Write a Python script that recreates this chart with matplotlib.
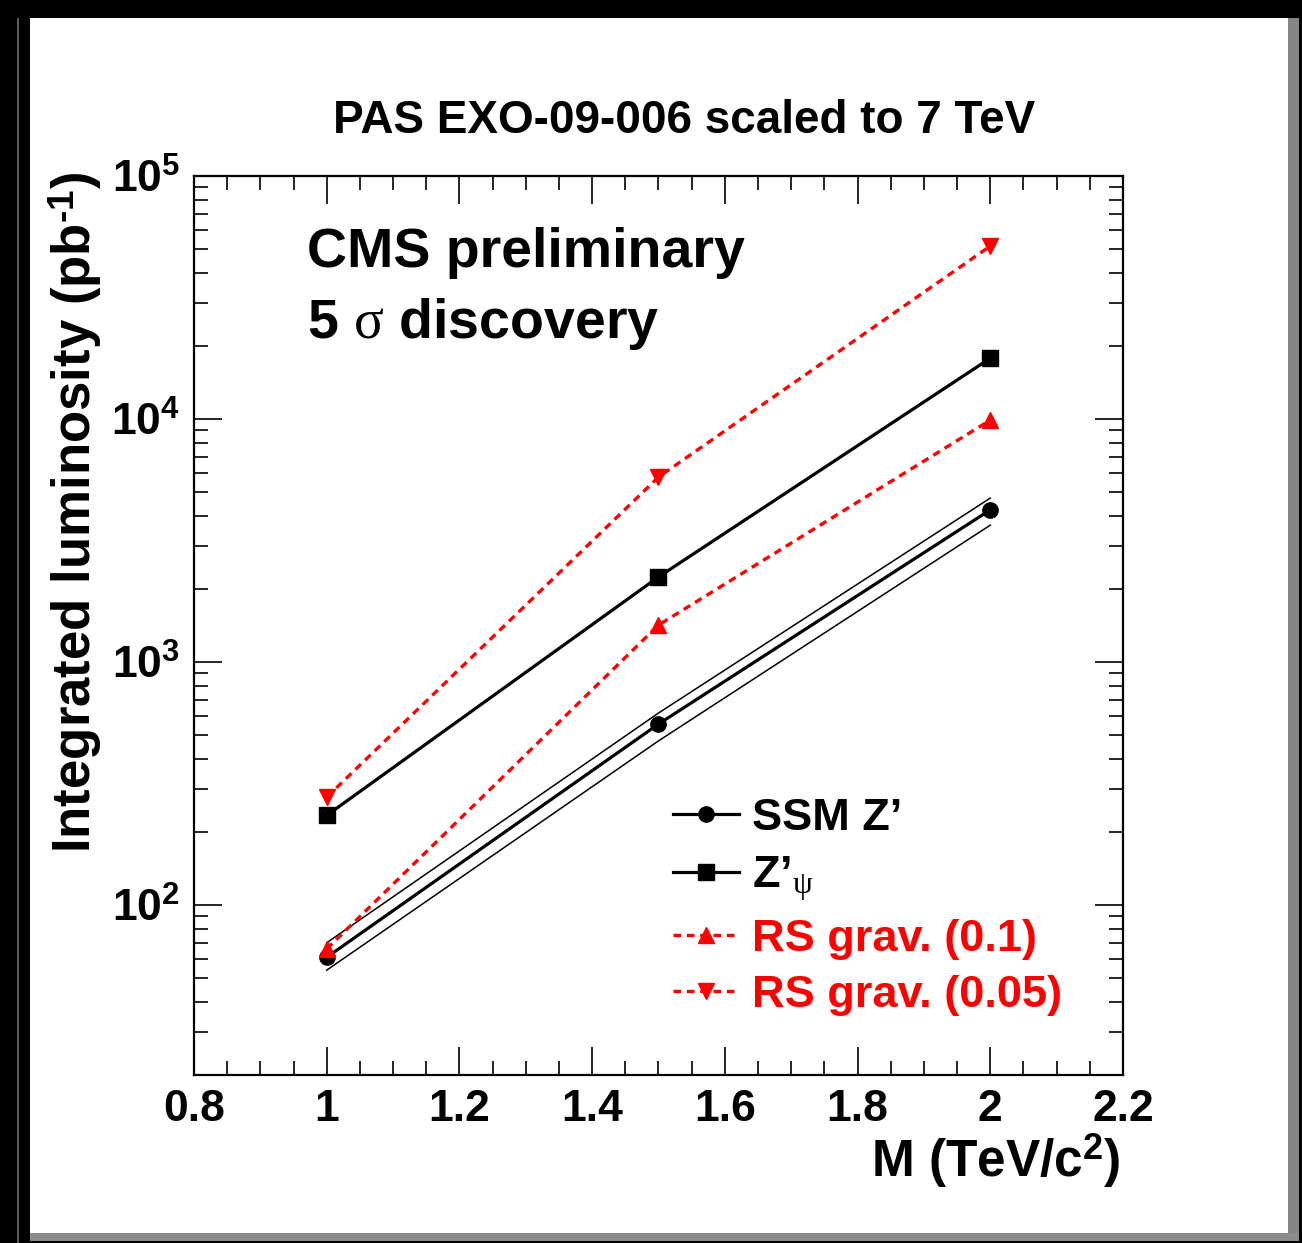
import matplotlib
matplotlib.use("Agg")
import matplotlib.pyplot as plt
from matplotlib.patches import Rectangle
from matplotlib.ticker import MultipleLocator, LogLocator, NullFormatter

plt.rcParams['font.family'] = ['Liberation Sans', 'DejaVu Sans']
plt.rcParams['font.weight'] = 'bold'
plt.rcParams['mathtext.fontset'] = 'custom'
plt.rcParams['mathtext.rm'] = 'Liberation Serif:normal'
plt.rcParams['mathtext.bf'] = 'Liberation Sans:bold'
plt.rcParams['mathtext.it'] = 'Liberation Serif:italic'

# resonance mass (TeV/c^2) and required luminosity (pb^-1) for 5 sigma
mass = [1.0, 1.5, 2.0]
ssm_z = [61, 556, 4230]
ssm_hi = [70, 617, 4730]
ssm_lo = [54, 474, 3660]
z_psi = [234, 2240, 17800]
rs_01 = [66, 1420, 9900]
rs_005 = [278, 5770, 51500]

W, H = 1302, 1243
fig = plt.figure(figsize=(W / 100, H / 100), dpi=100, facecolor='black')

# white canvas with a grey drop shadow
fig.patches.append(Rectangle((1288 / W, 2 / H), 11 / W, 1223 / H, transform=fig.transFigure,
                             facecolor='#858585', edgecolor='none', zorder=-3))
fig.patches.append(Rectangle((30 / W, 2 / H), 1269 / W, 8 / H, transform=fig.transFigure,
                             facecolor='#8c8c8c', edgecolor='none', zorder=-3))
fig.patches.append(Rectangle((17 / W, 0), 2 / W, 1225 / H, transform=fig.transFigure,
                             facecolor='#5a5a5a', edgecolor='none', zorder=-3))
fig.patches.append(Rectangle((30 / W, 10 / H), 1258 / W, 1215 / H, transform=fig.transFigure,
                             facecolor='white', edgecolor='none', zorder=-2))

ax = fig.add_axes([194 / W, 168 / H, 929 / W, 899 / H])
ax.set_facecolor('none')

ax.plot(mass, ssm_hi, color='black', lw=1.1)
ax.plot(mass, ssm_lo, color='black', lw=1.1)
ax.plot(mass, ssm_z, color='black', lw=2.3, marker='o', ms=11, label='SSM Z’')
ax.plot(mass, rs_005, color='red', lw=2.4, ls=(0, (2.3, 1.7)), marker='v', ms=11,
        label='RS grav. (0.05)')
ax.plot(mass, z_psi, color='black', lw=2.3, marker='s', ms=11, label=r'Z’$_{\mathrm{\psi}}$')
ax.plot(mass, rs_01, color='red', lw=2.4, ls=(0, (2.3, 1.7)), marker='^', ms=11,
        label='RS grav. (0.1)')

ax.set_xlim(0.8, 2.2)
ax.set_yscale('log')
ax.set_ylim(20, 1e5)

ax.xaxis.set_major_locator(MultipleLocator(0.2))
ax.xaxis.set_minor_locator(MultipleLocator(0.05))
ax.set_xticks([0.8, 1.0, 1.2, 1.4, 1.6, 1.8, 2.0, 2.2],
              ['0.8', '1', '1.2', '1.4', '1.6', '1.8', '2', '2.2'])
ax.set_yticks([1e2, 1e3, 1e4, 1e5],
              [r'$\mathbf{10^{2}}$', r'$\mathbf{10^{3}}$', r'$\mathbf{10^{4}}$', r'$\mathbf{10^{5}}$'])
ax.yaxis.set_minor_locator(LogLocator(base=10, subs=range(2, 10)))
ax.yaxis.set_minor_formatter(NullFormatter())

ax.tick_params(which='both', direction='in', top=True, right=True, width=1.2, labelsize=32)
ax.tick_params(which='major', length=20)
ax.tick_params(which='minor', length=10)
ax.tick_params(axis='x', pad=10)
ax.tick_params(axis='y', pad=10)
for sp in ax.spines.values():
    sp.set_linewidth(1.6)

h, l = ax.get_legend_handles_labels()
order = [0, 2, 3, 1]
ax.legend([h[i] for i in order], [l[i] for i in order], loc='upper left',
          bbox_to_anchor=(0.516, 0.308), frameon=False, fontsize=32.5, labelcolor='linecolor',
          handlelength=1.45, handletextpad=0.3, labelspacing=0.34, borderpad=0, borderaxespad=0)

fig.text(684 / W, (H - 133) / H, 'PAS EXO-09-006 scaled to 7 TeV', ha='center', va='baseline',
         fontsize=33)
fig.text(307 / W, (H - 267) / H, 'CMS preliminary', ha='left', va='baseline', fontsize=40)
fig.text(307 / W, (H - 338) / H, r'5 $\mathrm{\sigma}$ discovery', ha='left', va='baseline',
         fontsize=40)
fig.text(1120 / W, (H - 1177) / H, r'M (TeV/c$^{\mathbf{2}}$)', ha='right', va='baseline',
         fontsize=37)
fig.text(75 / W, (H - 172) / H, r'Integrated luminosity (pb$^{\mathbf{‐1}}$)', rotation=90,
         ha='center', va='top', fontsize=38)

fig.savefig('out.png', dpi=100, facecolor='black')
